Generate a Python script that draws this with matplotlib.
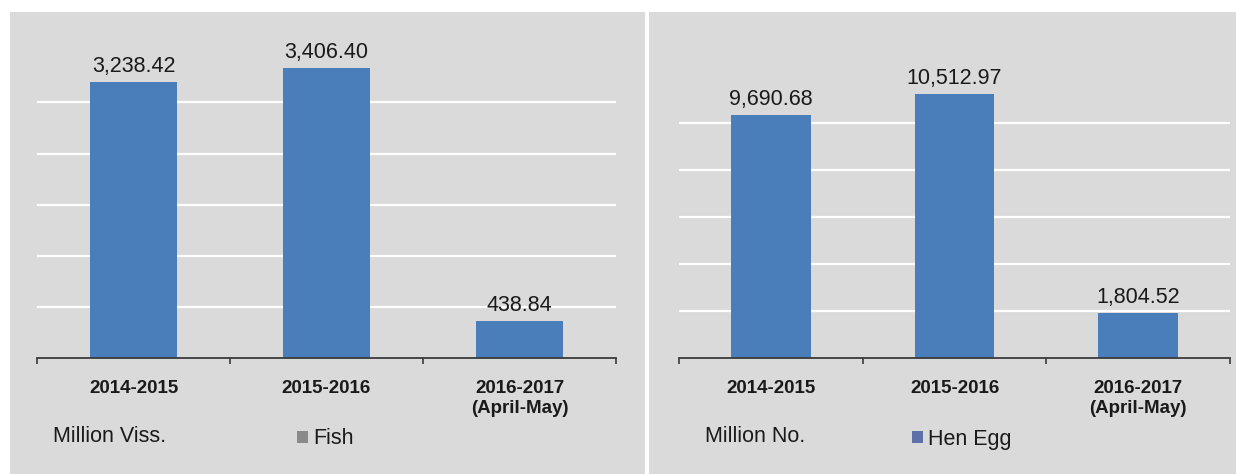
import matplotlib
matplotlib.use("Agg")
import matplotlib.pyplot as plt
from matplotlib.patches import Rectangle, Patch

plt.rcParams['font.family'] = ['Liberation Sans', 'DejaVu Sans']

# data
periods = ['2014-2015', '2015-2016', '2016-2017\n(April-May)']
fish = [3238.42, 3406.40, 438.84]
hen_egg = [9690.68, 10512.97, 1804.52]
fish_unit = 'Million Viss.'
egg_unit = 'Million No.'
fish_grid_step = 600
egg_grid_step = 1875

W, H = 1236, 474
BAR = '#4a7ebb'
BG = '#dadada'

fig = plt.figure(figsize=(W / 100, H / 100), dpi=100)
fig.patch.set_facecolor('white')


def px(x0, y0, x1, y1):
    # pixel box (top-left origin) -> figure fraction rect
    return [x0 / W, 1 - y1 / H, (x1 - x0) / W, (y1 - y0) / H]


# grey panels, kept under the axes
for x0, x1 in [(10, 645), (649, 1236)]:
    fig.patches.append(Rectangle((x0 / W, 0), (x1 - x0) / W, 1 - 12 / H,
                                 transform=fig.transFigure, facecolor=BG,
                                 edgecolor='none', zorder=-5))


def draw_panel(rect, values, step, ymax, width, unit, unit_x, leg_x, leg_label, leg_color):
    ax = fig.add_axes(rect)
    ax.set_facecolor('none')
    x = range(len(values))
    bars = ax.bar(x, values, width=width, color=BAR, zorder=3)
    ax.set_xlim(-0.5, len(values) - 0.5)
    ax.set_ylim(0, ymax)
    ax.set_yticks([step * i for i in range(1, 6)])
    ax.yaxis.grid(True, color='white', lw=1.6, zorder=1)
    ax.set_axisbelow(True)
    ax.tick_params(axis='y', length=0, labelleft=False)
    for s in ['top', 'left', 'right']:
        ax.spines[s].set_visible(False)
    ax.spines['bottom'].set_color('#3a3a3a')
    ax.spines['bottom'].set_linewidth(1.3)
    ax.spines['bottom'].set_zorder(4)
    # boundary ticks as major, category labels as minor
    ax.set_xticks([i - 0.5 for i in range(len(values) + 1)])
    ax.set_xticklabels([])
    ax.tick_params(axis='x', which='major', length=4, width=1.2, color='#3a3a3a', direction='out')
    ax.set_xticks(list(x), minor=True)
    ax.set_xticklabels(periods, minor=True, fontsize=13.5, fontweight='bold',
                       color='#1a1a1a', linespacing=1.18)
    ax.tick_params(axis='x', which='minor', length=0, pad=16)
    for b, v in zip(bars, values):
        ax.annotate(f'{v:,.2f}', (b.get_x() + b.get_width() / 2, v),
                    xytext=(0, 7), textcoords='offset points', ha='center',
                    va='baseline', fontsize=15.5, color='#1a1a1a')
    fig.text(unit_x / W, 1 - 436 / H, unit, fontsize=15.5, va='center', color='#1a1a1a')
    fig.legend(handles=[Patch(facecolor=leg_color, edgecolor='none', label=leg_label)],
               loc='center left', bbox_to_anchor=(leg_x / W, 1 - 439 / H),
               frameon=False, fontsize=15.5, handlelength=0.5, handleheight=0.5,
               handletextpad=0.25, borderpad=0, borderaxespad=0, labelcolor='#1a1a1a')
    return ax


draw_panel(px(37, 30, 616, 358), fish, fish_grid_step, 328 / 0.0852, 0.45,
           fish_unit, 53, 297, 'Fish', '#8a8a8a')
draw_panel(px(679, 30, 1230, 358), hen_egg, egg_grid_step, 328 / 0.0251, 0.435,
           egg_unit, 705, 912, 'Hen Egg', '#5f6fa8')

fig.savefig('out.png', dpi=100)
